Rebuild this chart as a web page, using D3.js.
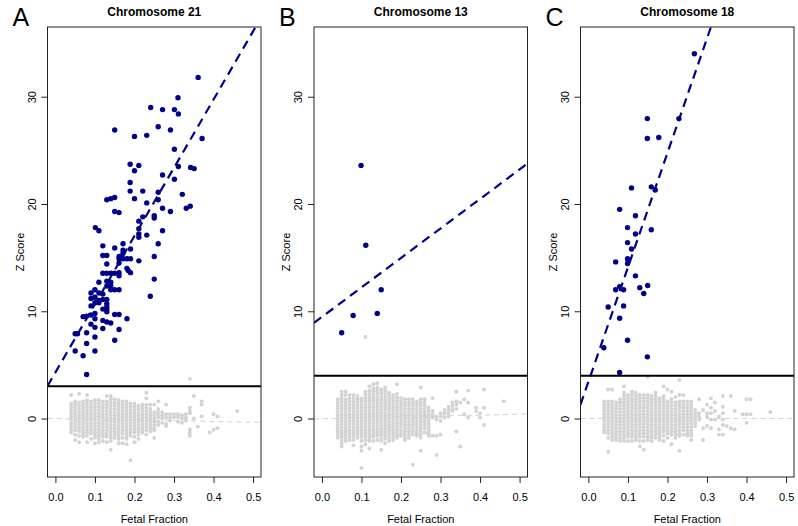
<!DOCTYPE html>
<html>
<head>
<meta charset="utf-8">
<script src="https://cdn.jsdelivr.net/npm/d3@7"></script>
<style>
html,body{margin:0;padding:0;background:#fff;}
svg{display:block;font-family:"Liberation Sans",Arial,Helvetica,sans-serif;}
</style>
</head>
<body>
<svg id="chart" width="798" height="526"></svg>
<script>
// ---------------- DATA ----------------
const panelLetters = ["A", "B", "C"];
const panelTitles = ["Chromosome 21", "Chromosome 13", "Chromosome 18"];
const xTicks = [0, 0.1, 0.2, 0.3, 0.4, 0.5];
const yTicks = [0, 10, 20, 30];
const xLabel = "Fetal Fraction";
const yLabel = "Z Score";
const thresholds = [3, 4, 4];
// [intercept, slope] of the dashed fits
const fitAffected = [[4.3, 63.6], [9.47, 27.5], [3.43, 106.7]];
const fitUnaffected = [[0.0, -0.69], [-0.03, 0.87], [0.0, 0.0]];

// affected samples [fetal fraction, z]
const navyA = [
[0.361,31.8],[0.310,29.9],[0.241,29.0],[0.271,28.8],[0.301,28.8],[0.311,28.4],[0.150,26.9],[0.260,27.2],[0.291,26.9],[0.200,26.3],[0.231,26.4],[0.371,26.1],[0.301,25.1],[0.189,23.7],[0.211,23.6],[0.200,23.1],[0.311,23.5],[0.342,23.4],[0.351,23.3],[0.271,22.7],[0.189,22.0],[0.301,22.3],[0.189,21.2],[0.221,21.2],[0.260,21.1],[0.321,20.9],[0.130,20.4],[0.140,20.5],[0.150,20.6],[0.200,20.5],[0.260,20.4],[0.231,20.1],[0.331,19.6],[0.341,19.8],[0.150,19.3],[0.161,19.2],[0.271,19.6],[0.291,19.3],[0.250,18.9],[0.250,18.7],[0.221,18.8],[0.211,18.4],[0.101,17.8],[0.110,17.5],[0.211,17.7],[0.271,17.5],[0.211,17.2],[0.211,16.9],[0.231,17.1],
[0.120,16.1],[0.150,15.9],[0.171,16.3],[0.171,15.7],[0.260,16.3],[0.190,15.8],[0.120,15.2],[0.130,15.2],[0.161,15.1],[0.167,15.1],[0.171,15.4],[0.161,14.9],[0.171,14.9],[0.181,14.9],[0.190,14.9],[0.211,14.7],[0.250,15.1],[0.130,14.4],[0.161,14.5],[0.181,14.0],[0.184,13.8],[0.190,13.6],[0.120,13.55],[0.130,13.55],[0.140,13.55],[0.150,13.55],[0.161,13.6],[0.161,13.3],[0.250,13.0],[0.130,12.8],[0.140,12.7],[0.110,12.7],[0.130,12.35],[0.140,12.35],[0.140,12.0],[0.150,12.0],[0.161,12.0],[0.090,11.7],[0.100,12.0],[0.110,11.7],[0.120,11.6],[0.090,11.2],[0.100,11.3],[0.110,11.0],[0.120,11.1],[0.130,11.1],[0.240,11.4],[0.100,10.8],[0.110,10.8],[0.130,10.7],[0.090,10.5],[0.130,10.4],[0.130,10.2],[0.120,10.2],[0.100,9.8],[0.130,9.95],[0.150,9.7],[0.161,9.7],[0.070,9.5],[0.079,9.55],[0.090,9.65],[0.181,9.3],[0.100,9.3],[0.120,9.15],[0.130,9.0],[0.140,8.9],[0.090,8.8],[0.100,8.5],[0.120,8.4],[0.161,8.3],[0.050,7.9],[0.056,7.9],[0.079,8.0],[0.100,7.6],[0.150,7.3],[0.079,7.0],[0.050,6.3],[0.100,6.3],[0.070,5.85],[0.079,4.1]
];
const navyB = [[0.050,8.0],[0.079,9.6],[0.099,23.6],[0.111,16.15],[0.140,9.8],[0.150,12.0]];
const navyC = [
[0.268,34.0],[0.149,27.96],[0.229,27.96],[0.149,26.1],[0.178,26.2],[0.109,21.5],[0.159,21.6],[0.169,21.3],[0.079,19.5],[0.119,18.9],
[0.099,17.8],[0.159,17.6],[0.119,17.2],[0.099,16.4],[0.109,15.8],[0.099,14.9],[0.101,14.7],[0.099,14.45],[0.069,14.6],[0.119,13.3],
[0.079,12.3],[0.069,12.0],[0.089,12.0],[0.130,12.2],[0.150,12.4],[0.140,11.65],[0.050,10.4],[0.089,10.5],[0.079,9.35],[0.039,6.6],
[0.099,7.3],[0.149,5.75],[0.079,4.3]
];

// unaffected samples: [fetal fraction, [z values]]
const grayA = [
[0.04,[2.2,1.4,1.1,0.8,0.5,0.2,-0.1,-0.4,-0.7,-1.0,-1.3]],
[0.05,[1.6,1.3,1.0,0.7,0.4,0.1,-0.2,-0.5,-0.8,-1.1,-1.5,-2.0]],
[0.06,[2.3,1.5,1.2,0.9,0.6,0.3,0.0,-0.3,-0.6,-0.9,-1.2,-1.6,-2.2]],
[0.07,[1.6,1.3,1.0,0.7,0.4,0.1,-0.2,-0.5,-0.8,-1.1,-1.4,-1.7]],
[0.08,[2.2,1.7,1.4,1.1,0.8,0.5,0.2,-0.1,-0.4,-0.7,-1.0,-1.3,-1.6,-2.2]],
[0.09,[1.6,1.3,1.0,0.7,0.4,0.1,-0.2,-0.5,-0.8,-1.1,-1.4,-1.9]],
[0.10,[1.7,1.4,1.1,0.8,0.5,0.2,-0.1,-0.4,-0.7,-1.0,-1.3,-1.6,-1.8,-2.3]],
[0.11,[1.7,1.4,1.1,0.8,0.5,0.2,-0.1,-0.4,-0.7,-1.0,-1.3,-1.6,-1.9,-2.2]],
[0.12,[1.6,1.3,1.0,0.7,0.4,0.1,-0.2,-0.5,-0.8,-1.1,-1.4,-1.7,-2.1]],
[0.13,[2.1,1.6,1.3,1.0,0.7,0.4,0.1,-0.2,-0.5,-0.8,-1.1,-1.4,-1.7,-2.2]],
[0.14,[2.1,1.8,1.5,1.2,0.9,0.6,0.3,0.0,-0.3,-0.6,-0.9,-1.2,-1.5,-1.8,-2.1,-2.9]],
[0.15,[1.8,1.5,1.2,0.9,0.6,0.3,0.0,-0.3,-0.6,-0.9,-1.2,-1.5,-1.8]],
[0.16,[1.7,1.4,1.1,0.8,0.5,0.2,-0.1,-0.4,-0.7,-1.0,-1.3,-1.6,-1.9,-2.3]],
[0.17,[1.6,1.3,1.0,0.7,0.4,0.1,-0.2,-0.5,-0.8,-1.1,-1.4,-1.8,-2.3]],
[0.18,[1.6,1.3,1.0,0.7,0.4,0.1,-0.2,-0.5,-0.8,-1.1,-1.4,-1.6,-1.9,-2.4]],
[0.19,[1.4,1.1,0.8,0.5,0.2,-0.1,-0.4,-0.7,-1.0,-1.3,-1.6,-3.9]],
[0.20,[1.4,1.1,0.8,0.5,0.2,-0.1,-0.4,-0.7,-1.0,-1.3,-1.7,-2.2]],
[0.21,[1.2,0.9,0.6,0.3,0.0,-0.3,-0.6,-0.9,-1.2,-1.5,-1.9]],
[0.22,[1.3,1.0,0.7,0.4,0.1,-0.2,-0.5,-0.8,-1.0,-1.3]],
[0.23,[2.4,1.9,1.3,1.0,0.7,0.4,0.1,-0.2,-0.5,-0.8,-1.1,-1.5]],
[0.24,[1.3,0.9,0.6,0.3,0.0,-0.3,-0.6,-0.9,-1.2]],
[0.25,[1.3,0.6,0.3,0.0,-0.3,-0.6,-0.9,-1.1,-1.8]],
[0.26,[1.6,0.9,0.6,0.4,0.1,-0.3,-0.6]],
[0.27,[0.6,0.3,0.0,-0.4]],
[0.28,[1.3,0.4,0.1,-0.5,-0.7]],
[0.29,[0.4,0.1,-0.2]],
[0.30,[0.4,0.1]],
[0.31,[0.4,0.1,-0.3]],
[0.32,[0.3,0.0,-0.4]],
[0.33,[0.4,0.1,-0.2]],
[0.34,[3.7,1.0,0.7,0.5,-1.0,-1.3,-1.6]],
[0.35,[2.1,0.0]],
[0.36,[-0.75]],
[0.37,[1.6,1.3,0.2]],
[0.39,[-1.3]],
[0.40,[0.4,-1.05]],
[0.41,[0.2,-0.9]],
[0.46,[0.7]]
];
const grayB = [
[0.04,[1.8,1.5,1.2,0.9,0.6,0.3,0.0,-0.3,-0.6,-0.9,-1.2,-1.5,-1.8]],
[0.05,[2.5,2.2,1.9,1.6,1.3,1.0,0.7,0.4,0.1,-0.2,-0.5,-0.8,-1.1,-1.4,-1.7,-2.0,-2.3,-2.6]],
[0.06,[2.5,2.2,1.8,1.5,1.2,0.9,0.6,0.3,0.0,-0.3,-0.6,-0.9,-1.2,-1.5,-1.8,-2.1]],
[0.07,[2.2,1.9,1.6,1.3,1.0,0.7,0.4,0.1,-0.2,-0.5,-0.8,-1.1,-1.4,-1.7,-2.0]],
[0.08,[2.2,1.9,1.6,1.3,1.0,0.7,0.4,0.1,-0.2,-0.5,-0.8,-1.1,-1.4,-1.7,-2.0,-2.5]],
[0.09,[2.1,1.8,1.5,1.2,0.9,0.6,0.3,0.0,-0.3,-0.6,-0.9,-1.2,-1.5,-1.8]],
[0.10,[1.9,1.6,1.3,1.0,0.7,0.4,0.1,-0.2,-0.5,-0.8,-1.1,-1.4,-1.7,-2.1,-2.6,-3.0,-4.6]],
[0.11,[7.6,2.5,2.2,1.9,1.6,1.3,1.0,0.7,0.4,0.1,-0.2,-0.5,-0.8,-1.1,-1.4,-1.7,-2.0,-2.4]],
[0.12,[3.0,2.6,2.3,2.0,1.7,1.4,1.1,0.8,0.5,0.2,-0.1,-0.4,-0.7,-1.0,-1.3,-1.6,-1.9,-2.1,-2.8]],
[0.13,[3.2,2.8,2.5,2.2,1.9,1.6,1.3,1.0,0.7,0.4,0.1,-0.2,-0.5,-0.8,-1.1,-1.4,-1.7,-2.1]],
[0.14,[3.3,2.9,2.6,2.3,2.0,1.7,1.4,1.1,0.8,0.5,0.2,-0.1,-0.4,-0.7,-1.0,-1.3,-1.6,-2.0]],
[0.15,[2.7,2.4,2.1,1.8,1.5,1.2,0.9,0.6,0.3,0.0,-0.3,-0.6,-0.9,-1.2,-1.5,-1.8,-2.1,-2.9]],
[0.16,[2.9,2.6,2.3,2.0,1.7,1.4,1.1,0.8,0.5,0.2,-0.1,-0.4,-0.7,-1.0,-1.3,-1.6,-1.9,-2.3]],
[0.17,[2.4,2.1,1.8,1.5,1.2,0.9,0.6,0.3,0.0,-0.3,-0.6,-0.9,-1.2,-1.5,-1.8,-2.1]],
[0.18,[2.2,1.9,1.6,1.3,1.0,0.7,0.4,0.1,-0.2,-0.5,-0.8,-1.1,-1.4,-1.7,-2.0]],
[0.19,[3.2,2.3,2.0,1.7,1.4,1.1,0.8,0.5,0.2,-0.1,-0.4,-0.7,-1.0,-1.3,-1.6,-1.8]],
[0.20,[1.9,1.6,1.3,1.0,0.7,0.4,0.1,-0.2,-0.5,-0.8,-1.1,-1.4,-1.6]],
[0.21,[1.8,1.5,1.2,0.9,0.6,0.3,0.0,-0.3,-0.6,-0.9,-1.2,-1.5,-1.8,-2.0]],
[0.22,[1.8,1.5,1.2,0.9,0.6,0.3,0.0,-0.3,-0.6,-0.9,-1.2,-1.5,-1.8]],
[0.23,[1.8,1.5,1.2,0.9,0.6,0.3,0.0,-0.3,-0.6,-0.9,-1.2,-1.5,-4.3]],
[0.24,[1.6,1.3,1.0,0.7,0.4,0.1,-0.2,-0.5,-0.8,-1.1,-1.4,-1.6]],
[0.25,[2.9,1.8,1.5,1.2,0.9,0.6,0.3,0.0,-0.3,-0.6,-0.9,-1.2,-1.5,-1.8,-3.0]],
[0.26,[1.8,1.5,1.2,0.9,0.6,0.3,0.0,-0.3,-0.6,-0.9,-1.3]],
[0.27,[1.0,0.7,0.4,0.1,-0.2,-0.5,-0.8,-1.1,-1.4,-1.6]],
[0.28,[1.9,0.7,0.4,0.1,-1.6]],
[0.29,[0.2,-0.1,-1.6,-3.4]],
[0.30,[0.5,0.2,-0.2,-1.5]],
[0.31,[0.8,0.5,0.1]],
[0.32,[1.1,0.8,0.5,0.2]],
[0.33,[1.5,1.2,0.9,0.7]],
[0.34,[2.5,1.6,1.3,0.9,-1.2]],
[0.35,[1.5,-2.6]],
[0.36,[1.8,0.4]],
[0.37,[2.6,1.5,0.1]],
[0.39,[1.0,0.7]],
[0.40,[0.5,0.1]],
[0.41,[2.7,1.0,-0.6]],
[0.46,[1.6]]
];
const grayC = [
[0.04,[1.6,1.3,1.0,0.7,0.4,0.1,-0.2,-0.5,-0.8,-1.1,-1.3]],
[0.05,[2.7,1.6,1.3,1.0,0.7,0.4,0.1,-0.2,-0.5,-0.8,-1.1,-1.4,-1.8,-3.1]],
[0.06,[2.7,1.6,1.3,1.0,0.7,0.4,0.1,-0.2,-0.5,-0.8,-1.1,-1.4,-1.7,-2.0]],
[0.07,[1.5,1.2,0.9,0.6,0.3,0.0,-0.3,-0.6,-0.9,-1.2,-1.5,-1.8,-2.0]],
[0.08,[1.8,1.5,1.2,0.9,0.6,0.3,0.0,-0.3,-0.6,-0.9,-1.2,-1.5,-1.8,-2.1]],
[0.09,[3.0,2.4,2.1,1.8,1.5,1.2,0.9,0.6,0.3,0.0,-0.3,-0.6,-0.9,-1.2,-1.5,-1.8,-2.1]],
[0.10,[2.2,1.9,1.6,1.3,1.0,0.7,0.4,0.1,-0.2,-0.5,-0.8,-1.1,-1.4,-1.7,-2.1]],
[0.11,[2.5,2.2,1.9,1.6,1.3,1.0,0.7,0.4,0.1,-0.2,-0.5,-0.8,-1.1,-1.4,-1.7,-2.1]],
[0.12,[2.4,2.1,1.8,1.5,1.2,0.9,0.6,0.3,0.0,-0.3,-0.6,-0.9,-1.2,-1.5,-1.8,-2.0]],
[0.13,[2.2,1.9,1.6,1.3,1.0,0.7,0.4,0.1,-0.2,-0.5,-0.8,-1.1,-1.4,-1.7,-2.1,-2.6]],
[0.14,[2.2,1.9,1.6,1.3,1.0,0.7,0.4,0.1,-0.2,-0.5,-0.8,-1.1,-1.4,-1.7,-2.1,-2.9]],
[0.15,[3.9,2.2,1.9,1.6,1.3,1.0,0.7,0.4,0.1,-0.2,-0.5,-0.8,-1.1,-1.4,-1.7,-2.0]],
[0.16,[2.1,1.8,1.5,1.2,0.9,0.6,0.3,0.0,-0.3,-0.6,-0.9,-1.2,-1.5,-1.8,-2.1]],
[0.17,[2.4,2.1,1.8,1.5,1.2,0.9,0.6,0.3,0.0,-0.3,-0.6,-0.9,-1.2,-1.5,-1.8]],
[0.18,[1.9,1.6,1.3,1.0,0.7,0.4,0.1,-0.2,-0.5,-0.8,-1.1,-1.4,-1.7,-2.0]],
[0.19,[3.0,2.1,1.8,1.5,1.2,0.9,0.6,0.3,0.0,-0.3,-0.6,-0.9,-1.2,-1.6,-2.1]],
[0.20,[2.7,1.6,1.3,1.0,0.7,0.4,0.1,-0.2,-0.5,-0.8,-1.1,-1.4,-1.8]],
[0.21,[2.5,1.8,1.5,1.2,0.9,0.6,0.3,0.0,-0.3,-0.6,-0.9,-1.2,-1.5,-2.4]],
[0.22,[2.0,1.5,1.2,0.9,0.6,0.3,0.0,-0.3,-0.6,-0.9,-1.2,-1.5,-1.8]],
[0.23,[3.6,2.2,1.6,1.3,1.0,0.7,0.4,0.1,-0.2,-0.5,-0.8,-1.1,-1.4,-1.6,-3.0]],
[0.24,[2.2,1.6,1.3,1.0,0.7,0.4,0.1,-0.2,-0.5,-0.8,-1.1,-1.5]],
[0.25,[1.6,1.3,1.0,0.7,0.4,0.1,-0.2,-0.5,-0.8,-1.1,-1.4,-1.6]],
[0.26,[1.6,1.3,1.0,0.7,0.4,0.1,-0.2,-0.5,-0.8,-1.1,-1.4,-1.6,-2.0]],
[0.27,[0.8,0.5,0.2,-0.1,-0.4,-0.7]],
[0.28,[1.8,0.5,0.2,-0.1]],
[0.29,[0.8,-0.9,-2.0]],
[0.30,[1.3,0.5,0.2,-0.7]],
[0.31,[1.9,1.0,0.5,-0.1,-0.9]],
[0.32,[1.5,0.7,-0.1]],
[0.33,[0.2,-1.0,-1.5]],
[0.34,[2.1,1.1,0.5,-0.1,-0.6,-1.5]],
[0.35,[-0.7]],
[0.36,[2.1,-0.9]],
[0.37,[0.7,-1.0]],
[0.39,[0.4]],
[0.40,[1.8,0.4,-0.4]],
[0.41,[1.8,0.4]],
[0.46,[0.6]]
];

const navySets = [navyA, navyB, navyC];
const graySets = [grayA, grayB, grayC];

// ---------------- DRAW ----------------
const svg = d3.select("#chart");
svg.append("rect").attr("width", 798).attr("height", 526).attr("fill", "#fff");

const NAVY = "#00008b";
const LGRAY = "#d3d3d3";
const panelLefts = [47.5, 314, 580.5];
const pw = 213.5, plotTop = 27, plotBottom = 477;

panelLetters.forEach((letter, i) => {
  const left = panelLefts[i];
  const x = d3.scaleLinear().domain([-0.02, 0.52]).range([left, left + pw]);
  const y = d3.scaleLinear().domain([-5.45, 36.5]).range([plotBottom, plotTop]);
  const g = svg.append("g");

  const clipId = "clip" + i;
  svg.append("clipPath").attr("id", clipId)
    .append("rect").attr("x", left).attr("y", plotTop).attr("width", pw).attr("height", plotBottom - plotTop);

  const plot = g.append("g").attr("clip-path", `url(#${clipId})`);

  // unaffected (gray)
  const gpts = graySets[i].flatMap(([f, zs]) => zs.map(z => [f, z]));
  plot.selectAll("circle.g").data(gpts).enter().append("circle")
    .attr("cx", d => x(d[0])).attr("cy", d => y(d[1])).attr("r", 1.95).attr("fill", LGRAY);

  // gray dashed fit
  const uf = fitUnaffected[i];
  plot.append("line")
    .attr("x1", x(-0.02)).attr("y1", y(uf[0] + uf[1] * -0.02))
    .attr("x2", x(0.52)).attr("y2", y(uf[0] + uf[1] * 0.52))
    .attr("stroke", LGRAY).attr("stroke-width", 1).attr("stroke-dasharray", "5,4");

  // affected (navy)
  plot.selectAll("circle.n").data(navySets[i]).enter().append("circle")
    .attr("cx", d => x(d[0])).attr("cy", d => y(d[1])).attr("r", 2.7).attr("fill", NAVY);

  // affected fit
  const af = fitAffected[i];
  plot.append("line")
    .attr("x1", x(-0.02)).attr("y1", y(af[0] + af[1] * -0.02))
    .attr("x2", x(0.52)).attr("y2", y(af[0] + af[1] * 0.52))
    .attr("stroke", NAVY).attr("stroke-width", 2.2).attr("stroke-dasharray", "9,6");

  // threshold
  plot.append("line")
    .attr("x1", left).attr("x2", left + pw)
    .attr("y1", y(thresholds[i])).attr("y2", y(thresholds[i]))
    .attr("stroke", "#000").attr("stroke-width", 2);

  // box
  g.append("rect").attr("x", left).attr("y", plotTop).attr("width", pw).attr("height", plotBottom - plotTop)
    .attr("fill", "none").attr("stroke", "#222").attr("stroke-width", 1);

  // x axis
  const xa = g.append("g").attr("transform", `translate(0,${plotBottom})`)
    .call(d3.axisBottom(x).tickValues(xTicks).tickFormat(d3.format(".1f")).tickSize(6).tickPadding(10));
  xa.select(".domain").remove();
  xa.selectAll("line").attr("stroke", "#222");
  xa.selectAll("text").attr("font-size", 11).attr("fill", "#000")
    .style("font-family", '"Liberation Sans", Arial, sans-serif');

  // y axis
  const ya = g.append("g").attr("transform", `translate(${left},0)`)
    .call(d3.axisLeft(y).tickValues(yTicks).tickFormat(d3.format("d")).tickSize(6));
  ya.select(".domain").remove();
  ya.selectAll("line").attr("stroke", "#222");
  ya.selectAll("text").attr("font-size", 11).attr("fill", "#000")
    .style("font-family", '"Liberation Sans", Arial, sans-serif')
    .attr("transform", "rotate(-90)").attr("x", 0).attr("y", -12).attr("dy", 0)
    .attr("text-anchor", "middle");

  // labels
  g.append("text").attr("x", left + pw / 2).attr("y", 523).attr("text-anchor", "middle")
    .attr("font-size", 11).text(xLabel);
  g.append("text").attr("transform", `translate(${left - 24},${(plotTop + plotBottom) / 2}) rotate(-90)`)
    .attr("text-anchor", "middle").attr("font-size", 11).text(yLabel);
  g.append("text").attr("x", left + pw / 2).attr("y", 15.5).attr("text-anchor", "middle")
    .attr("font-size", 12).attr("font-weight", "bold").text(panelTitles[i]);
  g.append("text").attr("x", left - 35).attr("y", 25.5).attr("font-size", 25).text(letter);
});
</script>
</body>
</html>
